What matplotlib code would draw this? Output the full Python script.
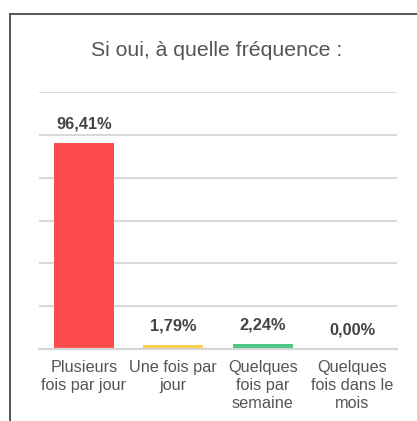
import matplotlib
matplotlib.use("Agg")
import matplotlib.pyplot as plt
from matplotlib.lines import Line2D

categories = ["Plusieurs\nfois par jour", "Une fois par\njour", "Quelques\nfois par\nsemaine", "Quelques\nfois dans le\nmois"]
values = [96.41, 1.79, 2.24, 0.00]
value_labels = ["96,41%", "1,79%", "2,24%", "0,00%"]
colors = ["#FF4B4B", "#FFD04E", "#4DC685", "#8B8BF5"]
title = "Si oui, à quelle fréquence :"

W, H = 417, 421
plt.rcParams['font.family'] = ['Liberation Sans', 'DejaVu Sans']
fig = plt.figure(figsize=(W / 100, H / 100), dpi=100)

def fx(px):
    return px / W

def fy(py):
    return 1 - py / H

# outer frame (left and top edges visible)
fig.add_artist(Line2D([fx(10), fx(10)], [fy(14), -0.1], transform=fig.transFigure, color="#555555", lw=1.4))
fig.add_artist(Line2D([fx(10), 1.1], [fy(14), fy(14)], transform=fig.transFigure, color="#555555", lw=1.4))

ax = fig.add_axes([fx(39), fy(349), fx(397) - fx(39), fy(92) - fy(349)])
x = range(len(categories))
ax.bar(x, values, width=0.67, color=colors, zorder=3)
ax.set_xlim(-0.5, len(categories) - 0.5)
ax.set_ylim(0, 120)
ax.set_yticks(range(0, 121, 20))
ax.yaxis.grid(True, color="#D6D6D6", lw=1.3, zorder=0)
ax.tick_params(axis='y', length=0, labelleft=False)
for s in ["top", "right", "left"]:
    ax.spines[s].set_visible(False)
ax.spines["bottom"].set_color("#D6D6D6")
ax.spines["bottom"].set_linewidth(1.6)
ax.spines["bottom"].set_zorder(4)
ax.set_xticks(list(x))
ax.set_xticklabels(categories, fontsize=11.7, color="#555555", linespacing=1.24, va='top')
ax.tick_params(axis='x', length=0, pad=8)

for i, (v, lab) in enumerate(zip(values, value_labels)):
    ax.annotate(lab, (i, v), xytext=(0, 10.3), textcoords="offset points",
                ha="center", va="baseline", fontsize=11.8, fontweight="bold", color="#444444")

fig.text(fx(217), fy(50), title, ha="center", va="center", fontsize=15.3, color="#555555")

fig.savefig("out.png", dpi=100)
